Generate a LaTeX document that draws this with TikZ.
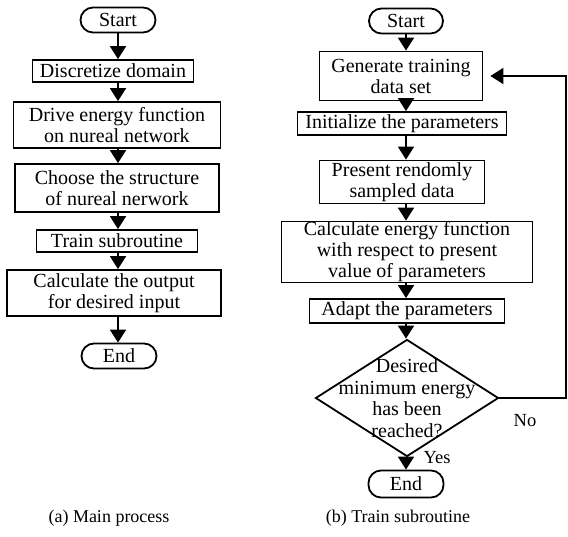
\documentclass[tikz,border=0pt]{standalone}
\usepackage{fontspec}
\setmainfont{Liberation Serif}
\usetikzlibrary{arrows.meta,shapes.geometric}
\tikzset{
  box/.style={draw,line width=1.8pt,inner sep=0pt,align=center,font=\fontsize{20}{21}\selectfont},
  term/.style={box,rounded corners=12.5pt},
  arr/.style={line width=1.8pt,-{Triangle[length=13pt,width=16pt]}},
  lbl/.style={inner sep=0pt,font=\fontsize{18.5}{20}\selectfont},
  subcap/.style={inner sep=0pt,font=\fontsize{18}{20}\selectfont}
}
\begin{document}
\begin{tikzpicture}[x=1pt,y=-1pt]
  \useasboundingbox(0,0)rectangle(568,536);
  % (a) main process
  \node[term,minimum width=75,minimum height=25](s1)at(118,20){Start};
  \node[box,minimum width=161,minimum height=22](a1)at(113,71){Discretize domain};
  \node[box,minimum width=207,minimum height=46](a2)at(117,125){Drive energy function\\on nureal network};
  \node[box,minimum width=204,minimum height=48](a3)at(117,188){Choose the structure\\of nureal nerwork};
  \node[box,minimum width=161,minimum height=22](a4)at(117,241){Train subroutine};
  \node[box,minimum width=214,minimum height=46](a5)at(114,293){Calculate the output\\for desired input};
  \node[term,minimum width=75,minimum height=25](e1)at(119,356){End};
  \foreach \p/\q in{s1/a1,a1/a2,a2/a3,a3/a4,a4/a5,a5/e1}
    \draw[arr](\p.south-|s1)--(\q.north-|s1);
  % (b) train subroutine
  \node[term,minimum width=74,minimum height=25](s2)at(406,21){Start};
  \node[box,minimum width=163,minimum height=49](b1)at(401,76){Generate training\\data set};
  \node[box,minimum width=209,minimum height=23](b2)at(402,123.5){Initialize the parameters};
  \node[box,minimum width=165,minimum height=43](b3)at(402,182){Present rendomly\\sampled data};
  \node[box,minimum width=251,minimum height=61](b4)at(407,252){Calculate energy function\\with respect to present\\value of parameters};
  \node[box,minimum width=195,minimum height=24](b5)at(407,311){Adapt the parameters};
  \node[draw,diamond,line width=1.8pt,inner sep=0pt,minimum width=183,minimum height=117](d)at(407,398){};
  \node[lbl,align=center,font=\fontsize{20}{21.5}\selectfont](dt)at(d){Desired\\minimum energy\\has been\\reached?};
  \node[term,minimum width=75,minimum height=27](e2)at(406,484){End};
  \foreach \p/\q in{s2/b1,b1/b2,b2/b3,b3/b4,b4/b5,b5/d,d/e2}
    \draw[arr](\p.south-|s2)--(\q.north-|s2);
  \coordinate(fb)at(566,398);
  \draw[arr,shorten >=7pt](d.east)--(fb)|-(b1.east);
  \node[lbl](no)at(525,421){No};
  \node[lbl](yes)at(437,458){Yes};
  % captions
  \node[subcap](ca)at(109,518){(a) Main process};
  \node[subcap](cb)at(398,518){(b) Train subroutine};
\end{tikzpicture}
\end{document}
